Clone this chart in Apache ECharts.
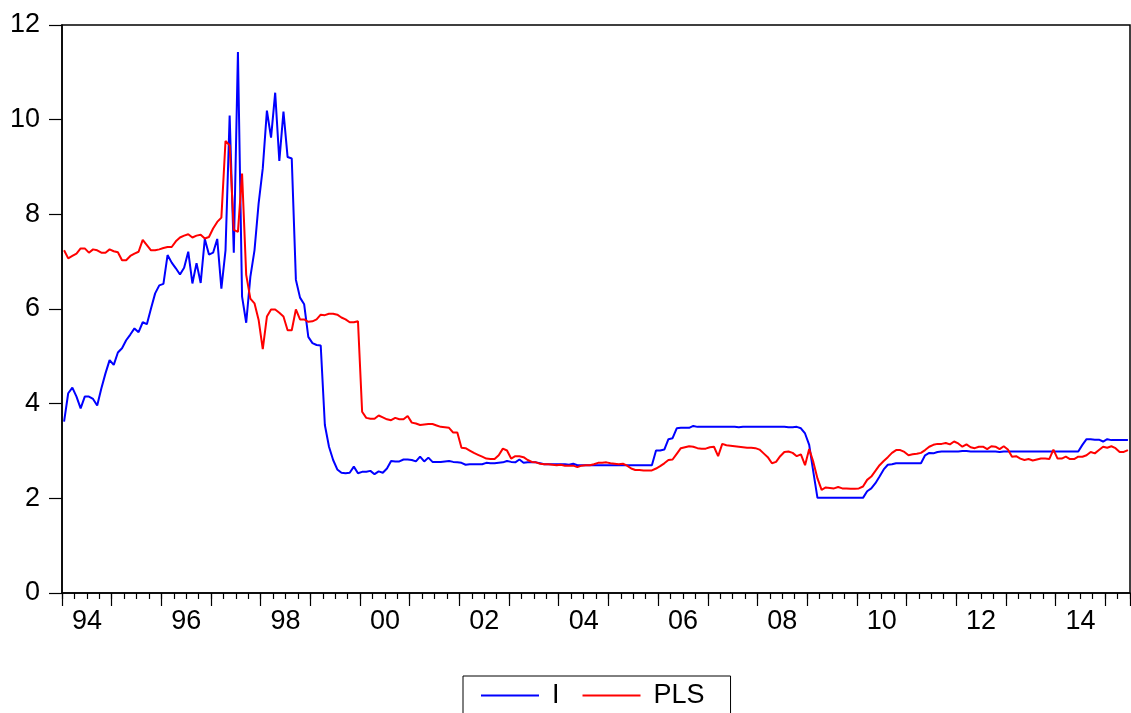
<!DOCTYPE html>
<html>
<head>
<meta charset="utf-8">
<script src="https://cdn.jsdelivr.net/npm/echarts@6/dist/echarts.min.js"></script>
<style>
html,body{margin:0;padding:0;background:#fff;}
#chart{width:1131px;height:713px;}
</style>
</head>
<body>
<div id="chart"></div>
<script>
// Monthly observations 1994M01 .. 2015M06
const startYear = 1994;
const nObs = 258;
const yearLabels = ['94','96','98','00','02','04','06','08','10','12','14'];
const seriesNames = ['I', 'PLS'];

const seriesI = [
3.62,4.22,4.34,4.15,3.90,4.15,4.15,4.10,3.96,4.32,4.64,4.92,
4.82,5.08,5.17,5.34,5.46,5.59,5.51,5.72,5.68,6.01,6.33,6.50,
6.53,7.14,6.98,6.86,6.73,6.87,7.21,6.54,6.97,6.55,7.48,7.15,
7.19,7.48,6.43,7.24,10.09,7.19,11.43,6.26,5.71,6.68,7.24,8.23,
8.97,10.19,9.62,10.57,9.13,10.17,9.21,9.18,6.62,6.24,6.10,5.41,
5.28,5.24,5.23,3.55,3.09,2.81,2.61,2.54,2.53,2.54,2.67,2.53,
2.56,2.56,2.58,2.51,2.57,2.54,2.63,2.79,2.78,2.78,2.82,2.82,
2.81,2.78,2.88,2.78,2.86,2.77,2.77,2.77,2.78,2.79,2.77,2.76,
2.75,2.71,2.72,2.72,2.72,2.72,2.75,2.74,2.74,2.75,2.76,2.79,
2.77,2.76,2.82,2.75,2.76,2.76,2.76,2.74,2.72,2.72,2.72,2.72,
2.72,2.72,2.71,2.73,2.70,2.70,2.70,2.70,2.70,2.70,2.70,2.70,
2.70,2.70,2.70,2.70,2.70,2.70,2.70,2.70,2.70,2.70,2.70,3.01,
3.01,3.03,3.25,3.27,3.48,3.49,3.49,3.49,3.53,3.51,3.51,3.51,
3.51,3.51,3.51,3.51,3.51,3.51,3.51,3.50,3.51,3.51,3.51,3.51,
3.51,3.51,3.51,3.51,3.51,3.51,3.51,3.50,3.50,3.51,3.48,3.37,
3.13,2.56,2.01,2.01,2.01,2.01,2.01,2.01,2.01,2.01,2.01,2.01,
2.01,2.01,2.15,2.21,2.32,2.46,2.61,2.71,2.72,2.74,2.74,2.74,
2.74,2.74,2.74,2.74,2.91,2.96,2.95,2.98,2.99,2.99,2.99,2.99,
2.99,3.00,3.00,2.99,2.99,2.99,2.99,2.99,2.99,2.99,2.98,2.99,
2.99,2.99,2.99,2.99,2.99,2.99,2.99,2.99,2.99,2.99,2.99,2.99,
2.99,2.99,2.99,2.99,2.99,2.99,3.13,3.25,3.25,3.24,3.24,3.20,
3.25,3.23,3.23,3.23,3.23,3.23
];

const seriesPLS = [
7.24,7.07,7.12,7.17,7.28,7.28,7.19,7.26,7.24,7.19,7.19,7.26,
7.22,7.20,7.03,7.03,7.12,7.17,7.21,7.46,7.35,7.24,7.24,7.26,
7.29,7.31,7.31,7.43,7.51,7.55,7.58,7.51,7.55,7.57,7.49,7.52,
7.70,7.84,7.93,9.55,9.46,7.67,7.63,8.86,6.72,6.22,6.12,5.77,
5.15,5.84,5.99,5.99,5.92,5.84,5.55,5.55,5.99,5.78,5.78,5.73,
5.74,5.78,5.88,5.87,5.90,5.90,5.88,5.82,5.78,5.72,5.72,5.74,
3.83,3.70,3.68,3.68,3.75,3.71,3.67,3.65,3.70,3.67,3.67,3.74,
3.60,3.58,3.55,3.56,3.57,3.57,3.54,3.51,3.50,3.49,3.39,3.39,
3.07,3.06,3.01,2.96,2.92,2.88,2.84,2.83,2.83,2.91,3.05,3.01,
2.84,2.89,2.89,2.87,2.81,2.77,2.76,2.73,2.72,2.72,2.71,2.70,
2.71,2.69,2.69,2.69,2.66,2.69,2.70,2.70,2.72,2.75,2.75,2.76,
2.74,2.73,2.72,2.73,2.69,2.63,2.60,2.60,2.59,2.59,2.59,2.63,
2.68,2.74,2.81,2.82,2.94,3.06,3.08,3.10,3.09,3.06,3.05,3.05,
3.08,3.09,2.89,3.15,3.12,3.11,3.10,3.09,3.08,3.07,3.07,3.06,
3.03,2.95,2.87,2.74,2.77,2.89,2.98,2.99,2.96,2.89,2.93,2.70,
3.04,2.77,2.42,2.18,2.23,2.22,2.21,2.24,2.21,2.21,2.20,2.20,
2.21,2.25,2.39,2.46,2.58,2.70,2.79,2.87,2.96,3.02,3.02,2.98,
2.91,2.93,2.94,2.96,3.02,3.09,3.13,3.15,3.15,3.17,3.14,3.20,
3.16,3.09,3.14,3.08,3.06,3.09,3.09,3.04,3.10,3.09,3.04,3.10,
3.03,2.88,2.89,2.84,2.81,2.83,2.80,2.82,2.84,2.84,2.83,3.03,
2.84,2.84,2.88,2.83,2.83,2.88,2.88,2.91,2.98,2.95,3.02,3.09,
3.07,3.10,3.06,2.98,2.98,3.02
];

const months = [];
for (let k = 0; k < nObs; k++) {
  const y = startYear + Math.floor(k / 12);
  const m = (k % 12) + 1;
  months.push(y + 'M' + (m < 10 ? '0' + m : m));
}

const FONT = 'Liberation Sans, Arial, sans-serif';
const chart = echarts.init(document.getElementById('chart'), null, {renderer: 'canvas'});
chart.setOption({
  animation: false,
  backgroundColor: '#fff',
  grid: {
    left: 62, right: 1, top: 25, bottom: 120,
    show: true, borderColor: '#000', borderWidth: 1.5, backgroundColor: 'transparent'
  },
  legend: {
    data: seriesNames,
    left: 463, top: 676,
    orient: 'horizontal',
    borderColor: '#000', borderWidth: 1, borderRadius: 0,
    padding: [6, 26, 10, 18],
    itemWidth: 58, itemHeight: 2,
    icon: 'rect',
    itemGap: 23,
    textStyle: {fontSize: 27, color: '#000', fontFamily: FONT, padding: [0, 0, 0, 8]}
  },
  xAxis: [
    {
      type: 'category', data: months, boundaryGap: true, position: 'bottom',
      axisLine: {show: true, lineStyle: {color: '#000', width: 1.5}},
      axisTick: {show: true, length: 13, inside: false,
        interval: function (i) { return i % 12 === 0; },
        lineStyle: {color: '#000', width: 1.2}},
      axisLabel: {
        show: true, fontSize: 27, color: '#000', fontFamily: FONT, margin: 15,
        padding: [0, 4, 0, 0],
        interval: function (i) { return i % 24 === 6; },
        formatter: function (v, i) { return yearLabels[Math.round((i - 6) / 24)]; }
      },
      splitLine: {show: false}
    },
    {
      type: 'category', data: months, boundaryGap: true, position: 'bottom',
      axisLine: {show: false},
      axisTick: {show: true, length: 6, inside: false,
        interval: function (i) { return i % 3 === 0; },
        lineStyle: {color: '#000', width: 1.2}},
      axisLabel: {show: false},
      splitLine: {show: false}
    }
  ],
  yAxis: {
    type: 'value', min: 0, max: 12, interval: 2,
    axisLine: {show: true, lineStyle: {color: '#000', width: 1.5}},
    axisTick: {show: true, length: 13, inside: false, lineStyle: {color: '#000', width: 1.2}},
    axisLabel: {fontSize: 27, color: '#000', fontFamily: FONT, margin: 22},
    splitLine: {show: false}
  },
  series: [
    {
      name: seriesNames[0], type: 'line', data: seriesI, xAxisIndex: 0,
      showSymbol: false, symbol: 'none',
      lineStyle: {color: '#0000FF', width: 2}, itemStyle: {color: '#0000FF'}
    },
    {
      name: seriesNames[1], type: 'line', data: seriesPLS, xAxisIndex: 0,
      showSymbol: false, symbol: 'none',
      lineStyle: {color: '#FF0000', width: 2}, itemStyle: {color: '#FF0000'}
    }
  ]
});
</script>
</body>
</html>
